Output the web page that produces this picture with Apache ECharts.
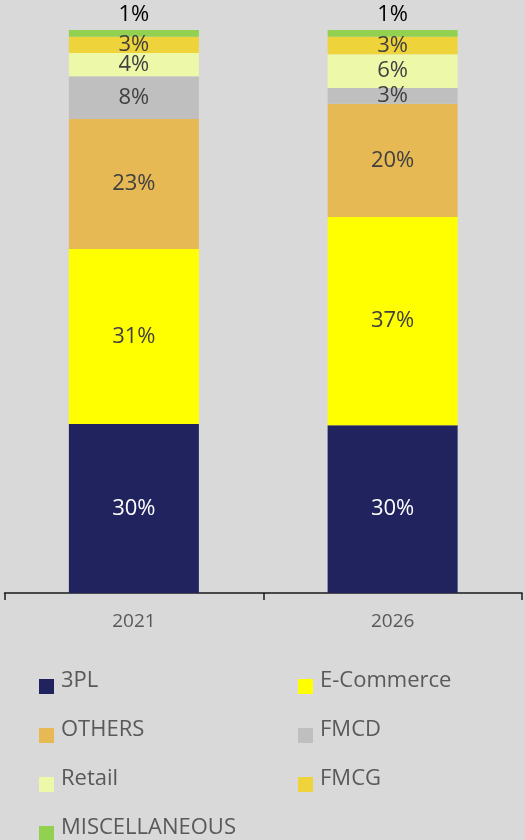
<!DOCTYPE html>
<html>
<head>
<meta charset="utf-8">
<script src="https://cdn.jsdelivr.net/npm/echarts@6/dist/echarts.min.js"></script>
<style>
    html, body { margin: 0; padding: 0; background: #d9d9d9; }
    #tmpEchart { width: 525px; height: 840px; }
</style>
</head>
<body>
<div id="tmpEchart"></div>
<script>
// x轴
var years = ['2021', '2026'];

// 各类占比 (%)
var pl3 = [30.0, 29.8];
var eCommerce = [31.1, 37.0];
var others = [23.1, 20.1];
var fmcd = [7.6, 2.8];
var retail = [4.1, 6.0];
var fmcg = [2.9, 3.1];
var misc = [1.2, 1.2];

var legendLeft = ['3PL', 'OTHERS', 'Retail', 'MISCELLANEOUS'];
var legendRight = ['E-Commerce', 'FMCD', 'FMCG'];
var colors = ['#20235e', '#ffff00', '#e6b955', '#bfbfbf', '#edf9a9', '#eed43a', '#92d050'];

var myChart = echarts.init(document.getElementById('tmpEchart'));
var font = 'Open Sans';
// 图例方块放在图标框底部, 文字相对偏上
var legendIcon = 'path://M0,0L15,0L15,0.01L0,0.01Z M0,12L15,12L15,27L0,27Z';

function pct(p) {
    return Math.round(p.value) + '%';
}

function makeSeries(name, data, color, labelColor, pos) {
    return {
        name: name,
        type: 'bar',
        stack: 'total',
        barWidth: 130,
        data: data,
        itemStyle: { color: color },
        label: {
            show: true,
            position: pos || 'inside',
            distance: 4,
            formatter: pct,
            color: labelColor,
            fontFamily: font,
            fontSize: 22
        }
    };
}

function makeLegend(left, names) {
    return {
        orient: 'vertical',
        left: left,
        top: 667,
        height: 240,
        padding: 0,
        itemWidth: 15,
        itemHeight: 27,
        itemGap: 22,
        icon: legendIcon,
        data: names,
        textStyle: {
            color: '#595959',
            fontFamily: font,
            fontSize: 22,
            lineHeight: 24,
            padding: [0, 0, 0, 2]
        }
    };
}

var option = {
    backgroundColor: '#d9d9d9',
    animation: false,
    grid: {
        left: 4.5,
        right: 3,
        top: 30,
        bottom: 247,
        containLabel: false
    },
    legend: [makeLegend(39, legendLeft), makeLegend(298, legendRight)],
    xAxis: {
        type: 'category',
        data: years,
        axisLine: { lineStyle: { color: '#1a1a1a', width: 1.5 } },
        axisTick: { show: true, length: 7, lineStyle: { color: '#1a1a1a', width: 1.5 } },
        axisLabel: {
            color: '#595959',
            fontFamily: font,
            fontSize: 19,
            margin: 19
        }
    },
    yAxis: {
        type: 'value',
        min: 0,
        max: 100,
        show: false,
        splitLine: { show: false }
    },
    series: [
        makeSeries('3PL', pl3, colors[0], '#ffffff'),
        makeSeries('E-Commerce', eCommerce, colors[1], '#404040'),
        makeSeries('OTHERS', others, colors[2], '#404040'),
        makeSeries('FMCD', fmcd, colors[3], '#404040'),
        makeSeries('Retail', retail, colors[4], '#404040'),
        makeSeries('FMCG', fmcg, colors[5], '#404040'),
        makeSeries('MISCELLANEOUS', misc, colors[6], '#000000', 'top')
    ]
};

myChart.setOption(option);
</script>
</body>
</html>
